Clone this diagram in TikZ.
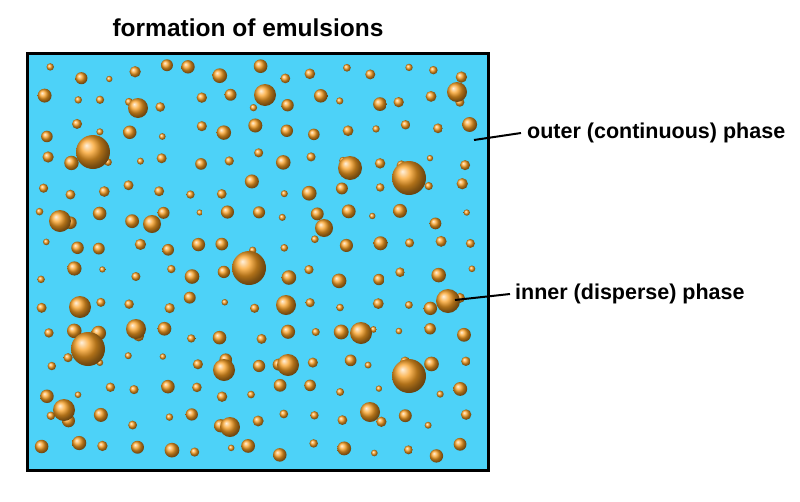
\documentclass[tikz,border=0pt]{standalone}
\usepackage{fontspec}
\setmainfont{Liberation Sans}
\definecolor{water}{RGB}{77,210,248}
\definecolor{drop}{RGB}{250,160,35}
\begin{document}
\begin{tikzpicture}[x=1pt,y=-1pt,
  lbl/.style={font=\bfseries\fontsize{21.5}{25}\selectfont,anchor=west,inner sep=0},
  dropstyle/.style={ball color=drop}]
\useasboundingbox (0,0) rectangle (800,501);
\node[font=\bfseries\fontsize{24.5}{28}\selectfont] (title) at (248,28) {formation of emulsions};
\node[draw=black,line width=2.5pt,fill=water,minimum width=461pt,minimum height=417pt,anchor=north west,inner sep=0] (box) at (26,52) {};
\begin{scope}
\clip (28,54) rectangle (485,467);
\pgfmathsetseed{7}
\foreach \i in {0,...,14}{
  \foreach \j in {0,...,13}{
    \pgfmathsetmacro{\xx}{45+\i*30+rnd*14-7}
    \pgfmathsetmacro{\yy}{72+\j*29+rnd*14-7}
    \pgfmathsetmacro{\rr}{3+rnd*4.5}
    \shade[dropstyle] (\xx,\yy) circle (\rr);
  }
}
\foreach \x/\y/\r in {93/152/17,409/178/17,249/268/17,88/349/17,409/376/17,265/95/11,138/108/10,457/92/10,350/168/12,60/221/11,448/301/12,80/307/11,361/333/11,288/365/11,64/410/11,224/370/11,370/412/10,230/427/10,136/329/10,152/224/9,324/228/9,286/305/10}
  \shade[dropstyle] (\x,\y) circle (\r);
\end{scope}
\coordinate (o1) at (474,140);
\coordinate (i1) at (455,300);
\node[lbl] (outer) at (527,133) {outer (continuous) phase};
\node[lbl] (inner) at (515,294) {inner (disperse) phase};
\draw[line width=2pt] (o1) -- ([xshift=-6pt]outer.west);
\draw[line width=2pt] (i1) -- ([xshift=-5pt]inner.west);
\end{tikzpicture}
\end{document}
